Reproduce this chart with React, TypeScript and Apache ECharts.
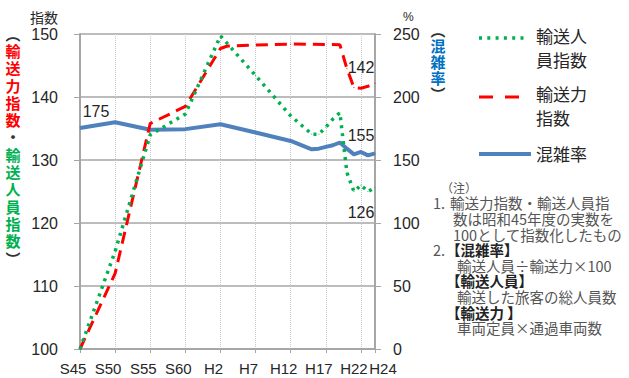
import React, { useEffect, useRef } from "react";
import * as echarts from "echarts";

// ---- data ----
const passengerYears = [1970, 1975, 1980, 1985, 1990, 1995, 2000, 2003, 2004, 2005, 2006, 2007, 2008, 2009, 2010, 2011, 2012];
const passengerIndex = [100, 115.5, 134, 137.3, 149.7, 143.4, 137.0, 134.1, 134.1, 135.2, 136.5, 137.5, 128, 125, 126, 125, 125.6];

const capacityYears = [1970, 1975, 1980, 1985, 1990, 1991, 2000, 2007, 2008, 2009, 2010, 2011, 2012];
const capacityIndex = [100, 112, 135.8, 138.5, 147.7, 148.1, 148.4, 148.3, 144.5, 141.5, 141.4, 141.7, 142.2];

const congestionYears = [1970, 1975, 1980, 1985, 1990, 1995, 2000, 2003, 2004, 2005, 2006, 2007, 2008, 2009, 2010, 2011, 2012];
const congestionRate = [175.4, 180, 174, 174.5, 178.4, 171.8, 165.1, 158.5, 159, 160.4, 161.7, 163.9, 159, 154.5, 156.4, 153.7, 155.3];

const xTickYears = [1970, 1975, 1980, 1985, 1990, 1995, 2000, 2005, 2010, 2012];
const xTickLabels = ["S45", "S50", "S55", "S60", "H2", "H7", "H12", "H17", "H22", "H24"];

const leftTitleChars = ["︵", "輸", "送", "力", "指", "数", "・", "輸", "送", "人", "員", "指", "数", "︶"];
const leftTitleColors = ["#333", "#FF0000", "#FF0000", "#FF0000", "#FF0000", "#FF0000", "#333", "#00B050", "#00B050", "#00B050", "#00B050", "#00B050", "#00B050", "#333"];
const rightTitleChars = ["︵", "混", "雑", "率", "︶"];
const rightTitleColors = ["#333", "#0070C0", "#0070C0", "#0070C0", "#333"];

const legendNames = ["輸送人\n員指数", "輸送力\n指数", "混雑率"];

const noteTitle = "（注）";
const noteLines = [
  ["1.", "輸送力指数・輸送人員指"],
  ["", "数は昭和45年度の実数を"],
  ["", "100として指数化したもの"],
  ["2.", "【混雑率】"],
  ["", "輸送人員÷輸送力×100"],
  ["", "【輸送人員】"],
  ["", "輸送した旅客の総人員数"],
  ["", "【輸送力 】"],
  ["", "車両定員×通過車両数"],
];

const GREEN = "#00B050";
const RED = "#FF0000";
const BLUE = "#4F81BD";
const GRID = "#A6A6A6";
const TXT = "#262626";
const FONT = "'Liberation Sans', Arial, sans-serif";
const CJK = "'Noto Sans CJK JP', sans-serif";

function pairs(xs: number[], ys: number[]) {
  return xs.map((x, i) => [x, ys[i]]);
}

function verticalText(chars: string[], colors: string[], x: number, top: number, lh: number) {
  const rich: any = {};
  const text = chars
    .map((c, i) => {
      rich["c" + i] = {
        fill: colors[i],
        fontFamily: CJK,
        fontSize: 15,
        fontWeight: "bold",
        lineHeight: lh,
        align: "center",
      };
      return `{c${i}|${c}}`;
    })
    .join("\n");
  return {
    type: "text",
    x,
    y: top,
    style: { text, rich, align: "center", verticalAlign: "top", lineHeight: lh },
  };
}

export default function App() {
  const ref = useRef<HTMLDivElement>(null);
  useEffect(() => {
    if (!ref.current) return;
    const chart = echarts.init(ref.current, null, { renderer: "svg" });

    const fmt = (p: any) => String(Math.round(p.value[1]));
    const pData: any[] = pairs(passengerYears, passengerIndex);
    const lastP = pData.length - 1;
    pData[lastP] = { value: pData[lastP], label: { show: true, position: "bottom", offset: [-14, 11], formatter: fmt } };
    const cData: any[] = pairs(capacityYears, capacityIndex);
    const lastC = cData.length - 1;
    cData[lastC] = { value: cData[lastC], label: { show: true, position: "top", offset: [-14, -2], formatter: fmt } };
    const rData: any[] = pairs(congestionYears, congestionRate);
    const lastR = rData.length - 1;
    rData[0] = { value: rData[0], label: { show: true, position: "top", offset: [16, -3], formatter: fmt } };
    rData[lastR] = { value: rData[lastR], label: { show: true, position: "top", offset: [-14, -4], formatter: fmt } };

    const labelStyle = { show: false, fontFamily: FONT, fontSize: 16, color: TXT };

    const graphics: any[] = [];
    // axis unit titles
    graphics.push({ type: "text", left: 30, top: 10, style: { text: "指数", font: `14px ${CJK}`, fill: TXT } });
    graphics.push({ type: "text", left: 403, top: 11, style: { text: "%", font: `12px ${FONT}`, fill: TXT } });
    // vertical titles
    graphics.push(verticalText(leftTitleChars, leftTitleColors, 13, 24.5, 17.3));
    graphics.push(verticalText(rightTitleChars, rightTitleColors, 438, 22, 15.8));

    // legend
    const legendY = [38, 97, 154];
    graphics.push({ type: "line", shape: { x1: 479, y1: legendY[0], x2: 527, y2: legendY[0] }, style: { stroke: GREEN, lineWidth: 3.5, lineDash: [3, 5.3] } });
    graphics.push({ type: "line", shape: { x1: 479, y1: legendY[1], x2: 521, y2: legendY[1] }, style: { stroke: RED, lineWidth: 3, lineDash: [14, 12] } });
    graphics.push({ type: "line", shape: { x1: 479, y1: legendY[2], x2: 531, y2: legendY[2] }, style: { stroke: BLUE, lineWidth: 4 } });
    const legendTop = [23, 81, 141];
    legendNames.forEach((t, i) => {
      graphics.push({
        type: "text", x: 536, y: legendTop[i],
        style: { text: t, font: `17px ${CJK}`, fill: TXT, verticalAlign: "top", lineHeight: 24.5 },
      });
    });

    // notes
    graphics.push({ type: "text", x: 441, y: 187, style: { text: noteTitle, font: `12px ${CJK}`, fill: "#555", verticalAlign: "middle" } });
    const noteRich: any = {
      n: { width: 17, fontFamily: CJK, fontSize: 14.5, fill: "#555", lineHeight: 15.6 },
      m: { width: 13, fontFamily: CJK, fontSize: 14.5, fill: "#555", lineHeight: 15.6 },
      t: { fontFamily: CJK, fontSize: 14.5, fill: "#555", lineHeight: 15.6 },
      i1: { padding: [0, 0, 0, 20], fontFamily: CJK, fontSize: 14.5, fill: "#555", lineHeight: 15.6 },
      i2: { padding: [0, 0, 0, 24], fontFamily: CJK, fontSize: 14.5, fill: "#555", lineHeight: 15.6 },
      h: { fontFamily: CJK, fontSize: 14.5, fontWeight: "bold", fill: "#222", lineHeight: 15.6 },
      h2: { padding: [0, 0, 0, 13], fontFamily: CJK, fontSize: 14.5, fontWeight: "bold", fill: "#222", lineHeight: 15.6 },
    };
    const noteText = noteLines
      .map(([num, body], i) => {
        const bold = body.startsWith("【");
        if (num) return bold ? `{m|${num}}{h|${body}}` : `{n|${num}}{t|${body}}`;
        if (bold) return `{h2|${body}}`;
        return i <= 2 ? `{i1|${body}}` : `{i2|${body}}`;
      })
      .join("\n");
    graphics.push({
      type: "text", x: 433, y: 195,
      style: { text: noteText, rich: noteRich, verticalAlign: "top", lineHeight: 15.6 },
    });

    const tickMap: Record<number, string> = {};
    xTickYears.forEach((y, i) => (tickMap[y] = xTickLabels[i]));

    const seriesCommon = {
      type: "line",
      symbol: "circle",
      symbolSize: 1,
      showSymbol: true,
      showAllSymbol: true,
      silent: true,
    };

    chart.setOption({
      animation: false,
      grid: { left: 80, right: 254, top: 34, bottom: 29, containLabel: false },
      xAxis: {
        type: "value",
        min: 1970,
        max: 2012,
        interval: 5,
        axisLine: { show: true, lineStyle: { color: GRID, width: 2 } },
        axisTick: { show: true, length: 4, lineStyle: { color: GRID } },
        splitLine: { show: true, lineStyle: { color: "#C8C8C8", type: "dotted", width: 1 } },
        axisLabel: {
          showMaxLabel: true,
          showMinLabel: true,
          hideOverlap: false,
          margin: 12,
          fontFamily: FONT,
          fontSize: 15,
          color: TXT,
          formatter: (v: number) => {
            const t = tickMap[v];
            if (!t) return "";
            return v === 2012 ? `{r|${t}}` : `{l|${t}}`;
          },
          rich: {
            l: { fontFamily: FONT, fontSize: 15, color: TXT, padding: [0, 14, 0, 0] },
            r: { fontFamily: FONT, fontSize: 15, color: TXT, padding: [0, 0, 0, 16] },
          },
        },
      },
      yAxis: [
        {
          type: "value",
          min: 100,
          max: 150,
          interval: 10,
          axisLine: { show: true, lineStyle: { color: GRID, width: 2 } },
          axisTick: { show: true, length: 6, lineStyle: { color: GRID } },
          splitLine: { show: true, lineStyle: { color: GRID, width: 1.5 } },
          axisLabel: { margin: 22, fontFamily: FONT, fontSize: 16, color: TXT },
        },
        {
          type: "value",
          min: 0,
          max: 250,
          interval: 50,
          position: "right",
          axisLine: { show: true, lineStyle: { color: GRID, width: 2 } },
          axisTick: { show: true, length: 6, lineStyle: { color: GRID } },
          splitLine: { show: false },
          axisLabel: { margin: 18, fontFamily: FONT, fontSize: 16, color: TXT },
        },
      ],
      series: [
        {
          ...seriesCommon,
          name: "混雑率",
          yAxisIndex: 1,
          data: rData,
          itemStyle: { color: BLUE },
          lineStyle: { color: BLUE, width: 4 },
          label: { ...labelStyle },
          z: 3,
        },
        {
          ...seriesCommon,
          name: "輸送力指数",
          yAxisIndex: 0,
          data: cData,
          itemStyle: { color: RED },
          lineStyle: { color: RED, width: 3, type: [12, 7] },
          label: { ...labelStyle },
          z: 4,
        },
        {
          ...seriesCommon,
          name: "輸送人員指数",
          yAxisIndex: 0,
          data: pData,
          itemStyle: { color: GREEN },
          lineStyle: { color: GREEN, width: 3.5, type: [3, 5] },
          label: { ...labelStyle },
          z: 5,
        },
      ],
      graphic: graphics,
    });
    return () => chart.dispose();
  }, []);

  return (
    <div
      ref={ref}
      style={{ position: "fixed", left: 0, top: 0, width: 629, height: 378, background: "#fff" }}
    />
  );
}
